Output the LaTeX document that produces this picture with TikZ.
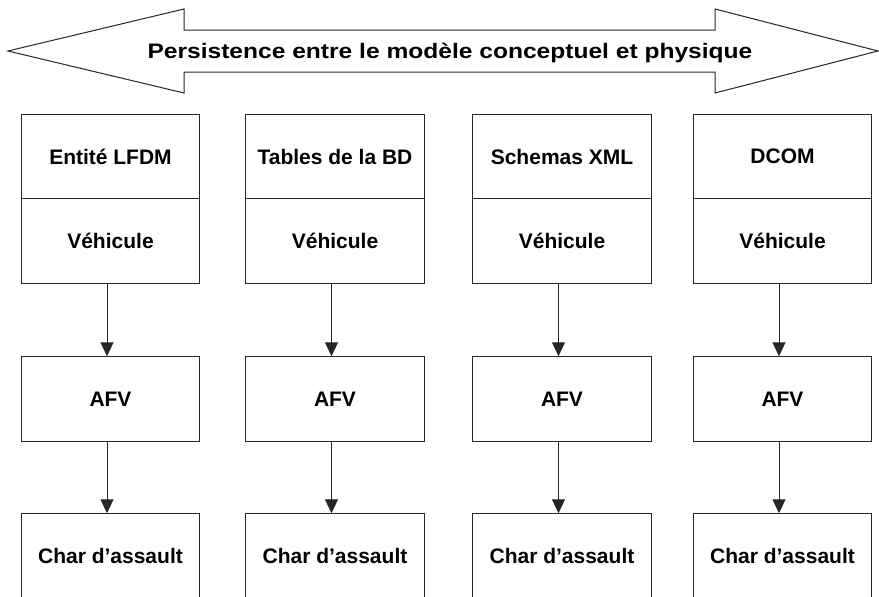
\documentclass[tikz,border=0pt]{standalone}
\usepackage{fontspec}
\setmainfont{Liberation Sans}
\usetikzlibrary{arrows.meta}
\begin{document}
\begin{tikzpicture}[x=1pt,y=-1pt,
  outline/.style={draw=black!85,line width=1pt},
  cell/.style={outline,minimum width=178.5pt,minimum height=84.5pt,inner sep=0pt,
    font=\fontsize{21}{25}\selectfont\bfseries},
  link/.style={draw=black!85,line width=1pt,-{Triangle[width=13pt,length=14pt]}}]
\useasboundingbox (0,0) rectangle (879,597);
\clip (0,0) rectangle (879,597);

% double-headed banner arrow
\draw[outline,fill=white] (8,51) -- (184,9) -- (184,30) -- (715,30) -- (715,9)
  -- (878,51) -- (715,93) -- (715,72) -- (184,72) -- (184,93) -- cycle;
\node[anchor=base] (banner) at (450,58)
  {\scalebox{1.17}[1]{\fontsize{21}{25}\selectfont\bfseries Persistence entre le mod\`ele conceptuel et physique}};

% columns
\foreach \cx/\head/\id in {110.5/{Entit\'e LFDM}/1, 335/{Tables de la BD}/2,
                           562/{Schemas XML}/3, 782.5/{DCOM}/4}{
  \node[cell] (h\id) at (\cx,156.5) {\head};
  \node[cell] (v\id) at (\cx,241) {V\'ehicule};
  \node[cell] (a\id) at (\cx,399) {AFV};
  \node[cell] (c\id) at (\cx,556) {Char d’assault};
  \draw[link] ([xshift=-3.5pt]v\id.south) -- ([xshift=-3.5pt]a\id.north);
  \draw[link] ([xshift=-3.5pt]a\id.south) -- ([xshift=-3.5pt]c\id.north);
}
\end{tikzpicture}
\end{document}
